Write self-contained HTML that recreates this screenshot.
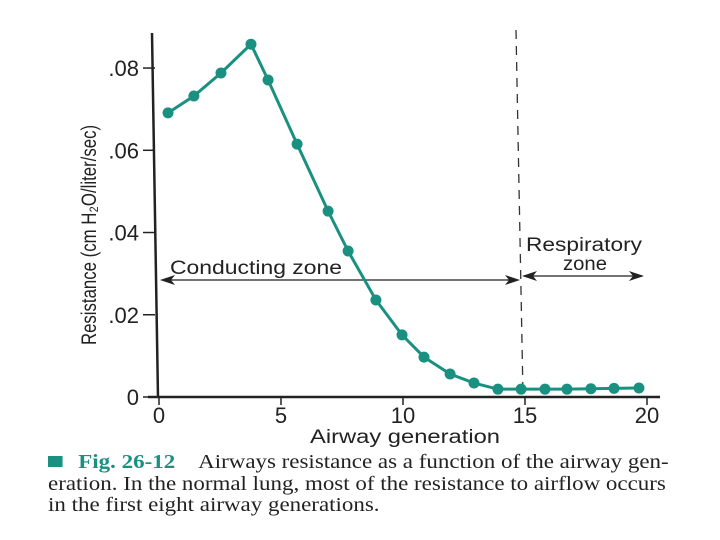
<!DOCTYPE html>
<html><head><meta charset="utf-8"><style>
html,body{margin:0;padding:0;background:#fff;}
body{width:720px;height:540px;overflow:hidden;position:relative;font-family:"Liberation Sans",sans-serif;}
.cap{position:absolute;left:48px;font-family:"Liberation Serif",serif;font-size:20.5px;color:#222;white-space:nowrap;transform-origin:0 0;transform:scaleX(1.12);}
</style></head><body>
<svg width="720" height="540" style="position:absolute;left:0;top:0" id="chart"></svg>
<div class="cap" style="top:451px"><span style="display:inline-block;width:13px;height:11px;background:#1a9080;margin-right:14px;vertical-align:1px"></span><b style="color:#1a9080">Fig. 26-12</b>&nbsp;&nbsp;&nbsp;&nbsp;Airways resistance as a function of the airway gen-</div>
<div class="cap" style="top:473px">eration. In the normal lung, most of the resistance to airflow occurs</div>
<div class="cap" style="top:494px">in the first eight airway generations.</div>
<script>
const gens=[0.37,1.43,2.54,3.77,4.47,5.66,6.93,7.75,8.89,9.96,10.86,11.93,12.91,13.89,14.84,15.82,16.72,17.7,18.65,19.67];
const resistance=[0.0691,0.0732,0.0788,0.0858,0.0771,0.0615,0.0452,0.0355,0.0236,0.0151,0.0097,0.0056,0.0034,0.0019,0.0019,0.0019,0.0019,0.0020,0.0021,0.0022];
const xTicks=[0,5,10,15,20];
const yTicks=[0,0.02,0.04,0.06,0.08];
const yTickLabels=["0",".02",".04",".06",".08"];
const NS="http://www.w3.org/2000/svg";
const svg=document.getElementById('chart');
const X=v=>159+v*24.4;
const Y=v=>397-v*4112;
function mk(t,a,txt){const e=document.createElementNS(NS,t);for(const k in a)e.setAttribute(k,a[k]);if(txt!==undefined)e.textContent=txt;svg.appendChild(e);return e;}
let e;
e=mk('line',{x1:152,y1:33,x2:158,y2:398,stroke:'#222','stroke-width':2.5});


e=mk('line',{x1:148,y1:397,x2:660,y2:397,stroke:'#222','stroke-width':2.5});


yTicks.forEach((v,i)=>{
 e=mk('line',{x1:143,y1:Y(v),x2:155,y2:Y(v),stroke:'#222','stroke-width':1.5});
 
 
 e=mk('text',{x:139,y:Y(v)+8,'text-anchor':'end','font-size':22,fill:'#222'},yTickLabels[i]);
 
 
});
xTicks.forEach(v=>{
 e=mk('line',{x1:X(v),y1:397,x2:X(v),y2:405,stroke:'#222','stroke-width':1.5});
 
 
 e=mk('text',{x:X(v),y:423,'text-anchor':'middle','font-size':22,fill:'#222'},String(v));
 
 
});
e=mk('text',{x:310,y:443,'font-size':19,fill:'#222',textLength:190,lengthAdjust:'spacingAndGlyphs'},'Airway generation');


e=mk('text',{x:0,y:0,'text-anchor':'middle','font-size':21,fill:'#222',transform:'translate(96,235) rotate(-90) scale(0.8,1)'},'Resistance (cm H₂O/liter/sec)');


e=mk('line',{x1:516,y1:30,x2:523,y2:395,stroke:'#333','stroke-width':1.3,'stroke-dasharray':'9,7'});


e=mk('line',{x1:162,y1:280,x2:518,y2:280,stroke:'#222','stroke-width':1.3});


e=mk('path',{d:'M160,280 L175,275 L171,280 L175,285 Z M520,280 L505,275 L509,280 L505,285 Z',fill:'#222'});


e=mk('line',{x1:524,y1:276,x2:642,y2:276,stroke:'#222','stroke-width':1.3});


e=mk('path',{d:'M522,276 L537,271 L533,276 L537,281 Z M644,276 L629,271 L633,276 L629,281 Z',fill:'#222'});


e=mk('text',{x:170,y:274,'font-size':19,fill:'#222',textLength:172,lengthAdjust:'spacingAndGlyphs'},'Conducting zone');


e=mk('text',{x:526,y:251,'font-size':19,fill:'#222',textLength:116,lengthAdjust:'spacingAndGlyphs'},'Respiratory');


e=mk('text',{x:563,y:270,'font-size':19,fill:'#222',textLength:44,lengthAdjust:'spacingAndGlyphs'},'zone');


e=mk('polyline',{points:gens.map((g,i)=>X(g)+','+Y(resistance[i])).join(' '),fill:'none',stroke:'#1a9080','stroke-width':3});


gens.forEach((g,i)=>{
 e=mk('circle',{cx:X(g),cy:Y(resistance[i]),r:5.5,fill:'#1a9080'});
 
 
});
</script>
</body></html>
